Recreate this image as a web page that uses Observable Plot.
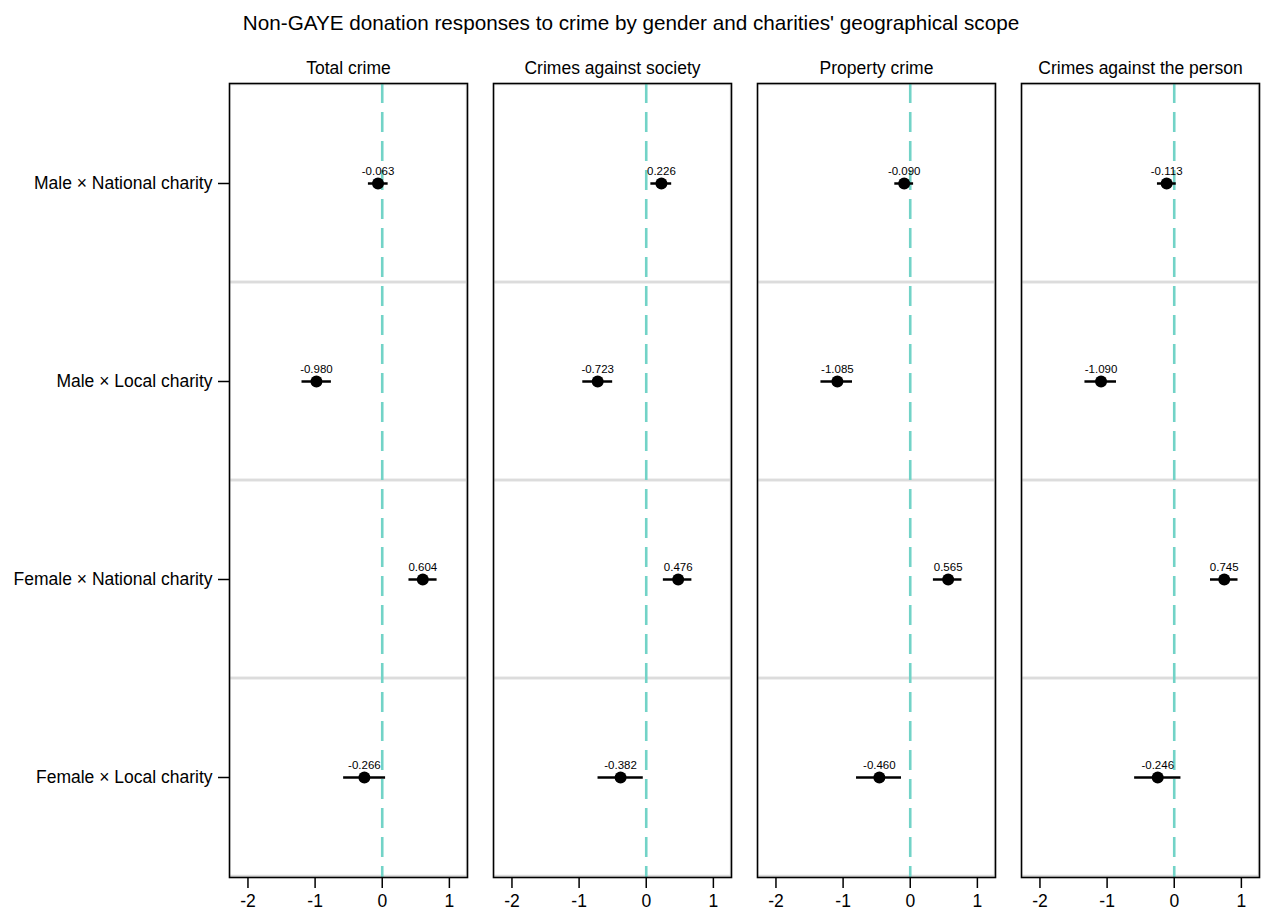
<!DOCTYPE html>
<html>
<head>
<meta charset="utf-8">
<script src="https://cdn.jsdelivr.net/npm/d3@7"></script>
<script src="https://cdn.jsdelivr.net/npm/@observablehq/plot@0.6"></script>
<style>
  html, body { margin: 0; padding: 0; background: #fff; }
  #wrap { width: 1262px; font-family: "Liberation Sans", Arial, sans-serif; }
  #title { box-sizing: border-box; height: 45px; padding-top: 12.5px; line-height: 20.7px; font-size: 20.7px; text-align: center; color: #000; }
  svg { display: block; }
</style>
</head>
<body>
<div id="wrap">
  <div id="title">Non-GAYE donation responses to crime by gender and charities' geographical scope</div>
  <div id="chart"></div>
</div>
<script>
// Panels (crime types) and rows (gender × scope interaction)
const panels = ["Total crime", "Crimes against society", "Property crime", "Crimes against the person"];
const rows = ["Male × National charity", "Male × Local charity", "Female × National charity", "Female × Local charity"];

// Point estimates per panel (in row order)
const estTotal    = [-0.063, -0.980, 0.604, -0.266];
const estSociety  = [0.226, -0.723, 0.476, -0.382];
const estProperty = [-0.090, -1.085, 0.565, -0.460];
const estPerson   = [-0.113, -1.090, 0.745, -0.246];

// Confidence interval bounds per panel
const loTotal    = [-0.206, -1.195, 0.398, -0.575];
const hiTotal    = [0.088, -0.757, 0.817, 0.050];
const loSociety  = [0.069, -0.945, 0.255, -0.718];
const hiSociety  = [0.379, -0.500, 0.680, -0.044];
const loProperty = [-0.230, -1.330, 0.345, -0.800];
const hiProperty = [0.050, -0.860, 0.770, -0.130];
const loPerson   = [-0.250, -1.330, 0.540, -0.590];
const hiPerson   = [0.030, -0.860, 0.950, 0.100];

const xTicks = [-2, -1, 0, 1];
const xDomain = [-2.275, 1.27];
const refLine = [0];

const est = [estTotal, estSociety, estProperty, estPerson];
const lo = [loTotal, loSociety, loProperty, loPerson];
const hi = [hiTotal, hiSociety, hiProperty, hiPerson];

const data = [];
panels.forEach((p, i) => rows.forEach((r, j) => {
  data.push({panel: p, row: r, est: est[i][j], lo: lo[i][j], hi: hi[i][j]});
}));
const separators = [];
panels.forEach(p => rows.forEach(r => separators.push({panel: p, row: r})));

const chart = Plot.plot({
  width: 1262,
  height: 865,
  marginLeft: 228,
  marginRight: 1,
  marginTop: 38,
  marginBottom: 33,
  style: {fontFamily: "'Liberation Sans', Arial, sans-serif", fontSize: "17.5px", color: "#000", background: "#fff"},
  fx: {domain: panels, paddingInner: 0.0974, paddingOuter: 0, label: null},
  x: {domain: xDomain, label: null},
  y: {type: "band", domain: rows, padding: 0, label: null},
  marks: [
    Plot.barX(separators, {fx: "panel", y: "row", x1: xDomain[0], x2: xDomain[1], fill: "none", stroke: "#dcdcdc", strokeWidth: 2.5, clip: "frame"}),
    Plot.ruleX(refLine, {x: d => d, stroke: "#72d3c7", strokeWidth: 2.6, strokeDasharray: "20,9"}),
    Plot.ruleY(data, {fx: "panel", y: "row", x1: "lo", x2: "hi", stroke: "#000", strokeWidth: 2.5}),
    Plot.dot(data, {fx: "panel", y: "row", x: "est", r: 6, fill: "#000", stroke: "none"}),
    Plot.text(data, {fx: "panel", y: "row", x: "est", text: d => d.est.toFixed(3), dy: -12, fontSize: 11.5, fill: "#000"}),
    Plot.frame({stroke: "#000", strokeWidth: 1.6}),
    Plot.axisFx({anchor: "top", tickSize: 0, tickPadding: 10, label: null}),
    Plot.axisY({tickSize: 11, tickPadding: 6, strokeWidth: 1.5, label: null}),
    Plot.axisX({ticks: xTicks, tickFormat: d => String(d), tickSize: 11, tickPadding: 6, strokeWidth: 1.5, label: null})
  ]
});
document.getElementById("chart").appendChild(chart);
</script>
</body>
</html>
